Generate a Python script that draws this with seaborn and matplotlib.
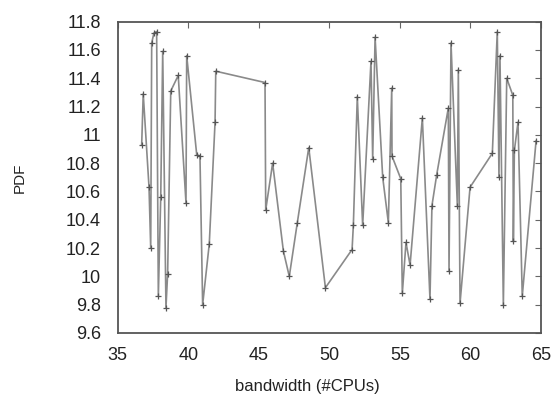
import pandas as pd
import seaborn as sns
import matplotlib.pyplot as plt
from matplotlib.ticker import FormatStrFormatter, MultipleLocator

# Values
bandwidth = [36.70, 36.81, 37.22, 37.34, 37.41, 37.57, 37.76, 37.88, 38.05, 38.19,
             38.42, 38.54, 38.76, 39.29, 39.84, 39.89, 40.60, 40.83, 41.02, 41.49,
             41.90, 41.95, 45.44, 45.49, 45.98, 46.74, 47.16, 47.73, 48.54, 49.72,
             51.61, 51.70, 51.98, 52.36, 52.95, 53.07, 53.24, 53.78, 54.18, 54.42,
             54.44, 55.06, 55.17, 55.43, 55.72, 56.59, 57.13, 57.27, 57.61, 58.43,
             58.48, 58.62, 59.07, 59.14, 59.26, 59.97, 61.55, 61.90, 62.02, 62.09,
             62.33, 62.57, 63.00, 63.04, 63.11, 63.37, 63.67, 64.65]
pdf = [10.93, 11.29, 10.63, 10.20, 11.65, 11.72, 11.73, 9.86, 10.56, 11.59,
       9.78, 10.02, 11.31, 11.42, 10.52, 11.56, 10.86, 10.85, 9.80, 10.23,
       11.09, 11.45, 11.37, 10.47, 10.80, 10.18, 10.00, 10.38, 10.91, 9.92,
       10.19, 10.36, 11.27, 10.36, 11.52, 10.83, 11.69, 10.70, 10.38, 11.33,
       10.85, 10.69, 9.88, 10.24, 10.08, 11.12, 9.84, 10.50, 10.72, 11.19,
       10.04, 11.65, 10.50, 11.46, 9.81, 10.63, 10.87, 11.73, 10.70, 11.56,
       9.80, 11.40, 11.28, 10.25, 10.89, 11.09, 9.86, 10.96]

df = pd.DataFrame({'bandwidth': bandwidth, 'PDF': pdf})

sns.set_style('white')
plt.rcParams['font.family'] = ['Liberation Sans', 'DejaVu Sans']

fig = plt.figure(figsize=(5.51, 4.03), dpi=100)
ax = fig.add_axes([0.2136, 0.1737, 0.7683, 0.7725])

sns.lineplot(data=df, x='bandwidth', y='PDF', sort=False, estimator=None,
             color='#8a8a8a', linewidth=1.2, marker='+', markersize=4,
             markeredgecolor='#555555', markeredgewidth=0.9, ax=ax)

ax.set_xlim(35, 65)
ax.set_ylim(9.6, 11.8)
ax.xaxis.set_major_locator(MultipleLocator(5))
ax.yaxis.set_major_locator(MultipleLocator(0.2))
ax.yaxis.set_major_formatter(FormatStrFormatter('%g'))
ax.tick_params(direction='in', length=4, width=0.8, color='#666666',
               top=True, right=True, labelsize=13, labelcolor='#222222')
ax.tick_params(axis='y', pad=12)
ax.tick_params(axis='x', pad=10)
for s in ax.spines.values():
    s.set_color('#555555')
    s.set_linewidth(1.3)

ax.set_xlabel('bandwidth (#CPUs)', fontsize=12, color='#222222')
ax.xaxis.set_label_coords(0.447, -0.148)
ax.set_ylabel('PDF', fontsize=11, color='#222222', labelpad=28)

fig.savefig('out.png', dpi=100)
